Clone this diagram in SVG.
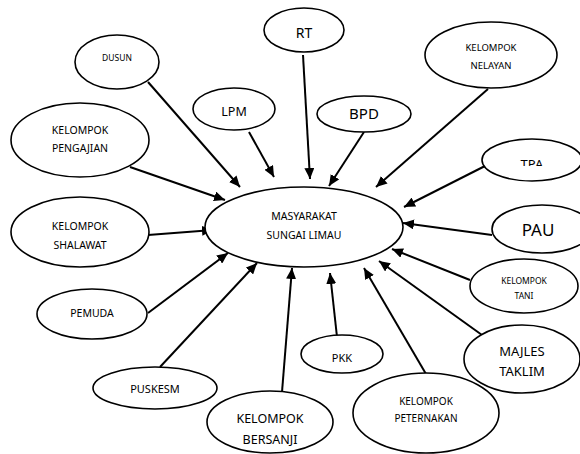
<svg xmlns="http://www.w3.org/2000/svg" width="580" height="454" viewBox="0 0 580 454">
<style>
ellipse{fill:#fff;stroke:#000;stroke-width:1.6}
text{font-family:"Noto Sans","Liberation Sans",sans-serif;fill:#000;text-anchor:middle;dominant-baseline:central}
.c line{stroke:#000;stroke-width:2;marker-end:url(#ah)}
</style>
<defs>
<marker id="ah" markerUnits="userSpaceOnUse" markerWidth="12" markerHeight="10" refX="11" refY="5" orient="auto">
<path d="M0,0 L11,5 L0,10 Z" fill="#000"/>
</marker>
<clipPath id="tpaclip"><rect x="480" y="130" width="100" height="36"/></clipPath>
</defs>
<g class="c" id="connectors">
<line x1="303" y1="55" x2="310" y2="179"/>
<line x1="364" y1="132" x2="329" y2="186"/>
<line x1="488" y1="89" x2="376" y2="187"/>
<line x1="485" y1="166" x2="404" y2="207"/>
<line x1="492" y1="235" x2="403" y2="223"/>
<line x1="470" y1="280" x2="392" y2="249"/>
<line x1="482" y1="335" x2="379" y2="261"/>
<line x1="426" y1="374" x2="364" y2="268"/>
<line x1="337" y1="337" x2="330" y2="273"/>
<line x1="282" y1="392" x2="292" y2="268"/>
<line x1="160" y1="367" x2="257" y2="263"/>
<line x1="148" y1="313" x2="228" y2="253"/>
<line x1="148" y1="235" x2="213" y2="230"/>
<line x1="130" y1="167" x2="225" y2="200"/>
<line x1="148" y1="82" x2="240" y2="187"/>
<line x1="249" y1="132" x2="274" y2="177"/>
</g>
<g id="center"><ellipse cx="304" cy="227" rx="99" ry="40"/><text x="304" y="216" font-size="10.5">MASYARAKAT</text><text x="304" y="235" font-size="10.5">SUNGAI LIMAU</text></g>
<g id="rt"><ellipse cx="304" cy="30" rx="40" ry="22"/><text x="304" y="32" font-size="14">RT</text></g>
<g id="dusun"><ellipse cx="117" cy="62" rx="42" ry="27"/><text x="117" y="57" font-size="8.5">DUSUN</text></g>
<g id="lpm"><ellipse cx="234" cy="109" rx="41" ry="21"/><text x="234" y="111" font-size="12.5">LPM</text></g>
<g id="bpd"><ellipse cx="364" cy="114" rx="47" ry="18"/><text x="364" y="113" font-size="15">BPD</text></g>
<g id="nelayan"><ellipse cx="491" cy="55" rx="66" ry="33"/><text x="491" y="47" font-size="9.5">KELOMPOK</text><text x="491" y="65" font-size="9.5">NELAYAN</text></g>
<g id="pengajian"><ellipse cx="80" cy="140" rx="69" ry="37"/><text x="80" y="130" font-size="10.5">KELOMPOK</text><text x="80" y="148" font-size="10.5">PENGAJIAN</text></g>
<g id="tpa"><ellipse cx="532" cy="160" rx="50" ry="21"/><text x="532" y="164" font-size="13" clip-path="url(#tpaclip)">TPA</text></g>
<g id="pau"><ellipse cx="542" cy="229" rx="50" ry="24"/><text x="538" y="229" font-size="17">PAU</text></g>
<g id="shalawat"><ellipse cx="80" cy="232" rx="69" ry="35"/><text x="80" y="226" font-size="10.5">KELOMPOK</text><text x="80" y="245" font-size="10.5">SHALAWAT</text></g>
<g id="tani"><ellipse cx="524" cy="286" rx="54" ry="27"/><text x="524" y="280" font-size="8.5">KELOMPOK</text><text x="524" y="295" font-size="8.5">TANI</text></g>
<g id="pemuda"><ellipse cx="92" cy="314" rx="55" ry="25"/><text x="92" y="313" font-size="10.5">PEMUDA</text></g>
<g id="majles"><ellipse cx="522" cy="359" rx="58" ry="34"/><text x="522" y="351" font-size="13">MAJLES</text><text x="522" y="371" font-size="13">TAKLIM</text></g>
<g id="pkk"><ellipse cx="342" cy="354" rx="41" ry="19"/><text x="342" y="357" font-size="11">PKK</text></g>
<g id="puskesm"><ellipse cx="155" cy="388" rx="62" ry="21"/><text x="155" y="388" font-size="11">PUSKESM</text></g>
<g id="peternakan"><ellipse cx="426" cy="413" rx="73" ry="40"/><text x="426" y="401" font-size="10">KELOMPOK</text><text x="426" y="418" font-size="10">PETERNAKAN</text></g>
<g id="bersanji"><ellipse cx="270" cy="422" rx="63" ry="31"/><text x="270" y="418" font-size="12.5">KELOMPOK</text><text x="270" y="439" font-size="12.5">BERSANJI</text></g>
</svg>
